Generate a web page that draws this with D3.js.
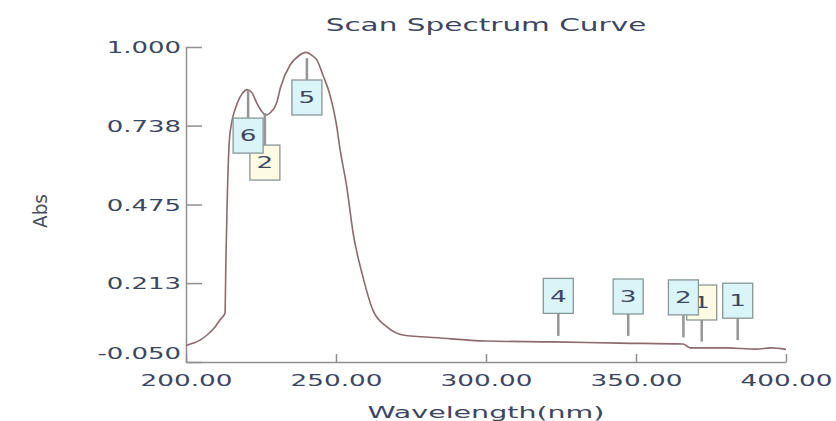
<!DOCTYPE html>
<html>
<head>
<meta charset="utf-8">
<script src="https://cdn.jsdelivr.net/npm/d3@7"></script>
<style>
  html, body { margin: 0; padding: 0; background: #ffffff; }
  svg { display: block; }
  text { font-family: "DejaVu Sans", Verdana, sans-serif; fill: #3d4660; }
</style>
</head>
<body>
<svg id="chart" width="836" height="421"></svg>
<script>
// Scan spectrum: wavelength (nm) vs absorbance
const wavelength = [200, 202.5, 204.7, 207, 209.7, 211.3, 213.0, 213.3, 213.8, 214.4, 215.2, 216.3,
  218, 219.7, 220.4, 222, 223.6, 225.7, 226.5, 228, 230.2, 231.5, 234.7, 237.5, 240, 242, 243.6,
  245.7, 248, 250, 251.5, 253.6, 255.7, 259, 262.3, 267, 272.3, 284.7, 300, 322, 344.7, 365.7,
  368, 380, 390, 395, 400];
const absorbance = [0.005, 0.013, 0.023, 0.04, 0.067, 0.09, 0.113, 0.29, 0.513, 0.68, 0.747, 0.79,
  0.833, 0.855, 0.858, 0.847, 0.813, 0.78, 0.773, 0.78, 0.813, 0.865, 0.94, 0.97, 0.982, 0.972, 0.957,
  0.905, 0.84, 0.75, 0.65, 0.533, 0.38, 0.233, 0.123, 0.067, 0.04, 0.03, 0.02, 0.017, 0.013, 0.01,
  -0.003, -0.003, -0.007, -0.003, -0.008];

// Picked peaks (cyan tags) and valleys (cream tags)
const peakLabels = ["6", "5", "4", "3", "2", "1"];
const peakNm = [220.7, 240.3, 324.1, 347.4, 365.8, 383.9];
const peakAbs = [0.857, 0.963, 0.037, 0.037, 0.032, 0.023];
const peakTagAbs = [0.763, 0.89, 0.112, 0.11, 0.107, 0.096];

const valleyLabels = ["2", "1"];
const valleyNm = [226.3, 371.9];
const valleyAbs = [0.78, 0.018];
const valleyTagAbs = [0.673, 0.09];

// Axis ticks
const xTicks = [200, 250, 300, 350, 400];
const yTicks = [-0.05, 0.213, 0.475, 0.738, 1.0];
const yTickLabels = ["-0.050", "0.213", "0.475", "0.738", "1.000"];
const xTickLabels = ["200.00", "250.00", "300.00", "350.00", "400.00"];

const titleText = "Scan Spectrum Curve";
const xTitle = "Wavelength(nm)";
const yTitle = "Abs";

const svg = d3.select("#chart");
const x = d3.scaleLinear().domain([200, 400]).range([186, 786]);
const y = d3.scaleLinear().domain([-0.05, 1.0]).range([362, 47]);

// Widen text horizontally, as the instrument software renders it
function stretch(sel, factor) {
  sel.each(function () {
    const len = this.getComputedTextLength();
    d3.select(this).attr("textLength", len * factor).attr("lengthAdjust", "spacingAndGlyphs");
  });
}

const axisColor = "#8f8f8f";

// Y axis (ticks point into the plot)
const yAxis = svg.append("g")
  .attr("transform", `translate(${x(200)},0)`)
  .call(d3.axisLeft(y).tickValues(yTicks).tickFormat((d, i) => yTickLabels[i])
    .tickSize(-16).tickSizeOuter(0).tickPadding(5));
yAxis.select(".domain").attr("stroke", axisColor).attr("stroke-width", 1.5);
yAxis.selectAll(".tick line").attr("stroke", axisColor).attr("stroke-width", 1.5);
yAxis.selectAll(".tick text")
  .attr("font-size", 16).attr("fill", "#3d4660").style("font-family", "DejaVu Sans")
  .attr("dy", d => d === -0.05 ? "-0.2em" : "0.36em")
  .call(stretch, 1.62);

// X axis (ticks point up)
const xAxis = svg.append("g")
  .attr("transform", `translate(0,${y(-0.05)})`)
  .call(d3.axisBottom(x).tickValues(xTicks).tickFormat((d, i) => xTickLabels[i])
    .tickSize(-8).tickSizeOuter(0).tickPadding(13));
xAxis.select(".domain").attr("stroke", axisColor).attr("stroke-width", 1.5);
xAxis.selectAll(".tick line").attr("stroke", axisColor).attr("stroke-width", 1.5);
xAxis.selectAll(".tick text")
  .attr("font-size", 16).attr("fill", "#3d4660").style("font-family", "DejaVu Sans")
  .call(stretch, 1.64);

// Spectrum curve
const pts = wavelength.map((w, i) => [w, absorbance[i]]);
svg.append("path")
  .datum(pts)
  .attr("fill", "none")
  .attr("stroke", "#8c6b6e")
  .attr("stroke-width", 1.6)
  .attr("d", d3.line().x(d => x(d[0])).y(d => y(d[1])).curve(d3.curveMonotoneX));

// Peak / valley tags: a leader line from the point to a numbered box
function drawTags(labels, nm, abs, tagAbs, fill) {
  const g = svg.append("g");
  labels.forEach((lab, i) => {
    const cx = x(nm[i]);
    const y0 = y(abs[i]);
    const y1 = y(tagAbs[i]);
    const below = y1 > y0;
    const bw = 30, bh = 35;
    g.append("line")
      .attr("x1", cx).attr("x2", cx).attr("y1", y0).attr("y2", y1)
      .attr("stroke", "#959595").attr("stroke-width", 2.5);
    const top = below ? y1 : y1 - bh;
    g.append("rect")
      .attr("x", cx - bw / 2).attr("y", top).attr("width", bw).attr("height", bh)
      .attr("fill", fill).attr("stroke", "#8a9696").attr("stroke-width", 1.3);
    g.append("text")
      .attr("x", cx).attr("y", top + bh / 2).attr("dy", "0.36em")
      .attr("text-anchor", "middle").attr("font-size", 16)
      .text(lab)
      .call(stretch, 1.64);
  });
}
drawTags(valleyLabels, valleyNm, valleyAbs, valleyTagAbs, "#fdfbe3");
drawTags(peakLabels, peakNm, peakAbs, peakTagAbs, "#d9f5f8");

// Titles
svg.append("text")
  .attr("x", 486).attr("y", 31)
  .attr("text-anchor", "middle").attr("font-size", 18)
  .attr("fill", "#454a5c")
  .text(titleText)
  .call(stretch, 1.64);

svg.append("text")
  .attr("x", 486).attr("y", 418)
  .attr("text-anchor", "middle").attr("font-size", 16)
  .text(xTitle)
  .call(stretch, 1.78);

svg.append("text")
  .attr("transform", "translate(47,211) rotate(-90)")
  .attr("text-anchor", "middle")
  .attr("textLength", 34).attr("lengthAdjust", "spacingAndGlyphs")
  .style("font-size", "19px")
  .style("font-family", "'DejaVu Sans Condensed', 'DejaVu Sans', sans-serif")
  .style("fill", "#4a4f60")
  .text(yTitle);
</script>
</body>
</html>
